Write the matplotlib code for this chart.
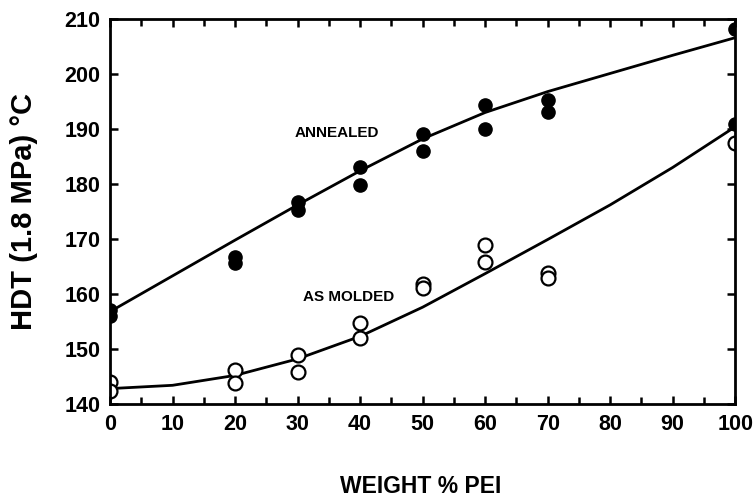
import matplotlib
matplotlib.use("Agg")
from matplotlib import pyplot as plt
from matplotlib.ticker import MultipleLocator

plt.rcParams['font.family'] = ['Liberation Sans', 'DejaVu Sans']
plt.rcParams['font.weight'] = 'bold'

# annealed samples (filled dots)
ann_x = [0, 0, 20, 20, 30, 30, 40, 40, 50, 50, 60, 60, 70, 70, 100, 100]
ann_y = [157.1, 156.0, 166.7, 165.6, 176.7, 175.3, 183.1, 179.8,
         189.1, 186.0, 194.4, 190.0, 195.3, 193.1, 208.2, 191.0]

# as molded samples (open circles)
mol_x = [0, 0, 20, 20, 30, 30, 40, 40, 50, 50, 60, 60, 70, 70, 100]
mol_y = [144.0, 142.3, 146.2, 143.8, 148.9, 145.8, 154.7, 152.0,
         161.8, 161.1, 168.9, 165.8, 163.8, 162.9, 187.5]

# drawn trend curves
curve_x = [0, 10, 20, 30, 40, 50, 60, 70, 80, 90, 100]
ann_curve = [156.8, 163.3, 169.8, 176.2, 182.4, 188.2, 193.0, 196.8, 200.1, 203.4, 206.6]
mol_curve = [142.8, 143.4, 145.2, 148.2, 152.3, 157.6, 163.7, 169.9, 176.2, 183.0, 190.4]

fig = plt.figure(figsize=(7.54, 5.0), dpi=100)
ax = fig.add_axes([0.146, 0.192, 0.829, 0.770])

ax.plot(curve_x, ann_curve, color='black', lw=2)
ax.plot(curve_x, mol_curve, color='black', lw=2)
ax.plot(ann_x, ann_y, 'o', color='black', markersize=9.5, linestyle='none')
ax.plot(mol_x, mol_y, 'o', markerfacecolor='white', markeredgecolor='black',
        markeredgewidth=1.6, markersize=10, linestyle='none')

ax.text(29.6, 189.3, "ANNEALED", fontsize=11, fontweight='heavy', va='center')
ax.text(30.9, 159.5, "AS MOLDED", fontsize=11, fontweight='heavy', va='center')

ax.set_xlim(0, 100)
ax.set_ylim(140, 210)
ax.xaxis.set_major_locator(MultipleLocator(10))
ax.xaxis.set_minor_locator(MultipleLocator(5))
ax.yaxis.set_major_locator(MultipleLocator(10))
ax.tick_params(which='both', direction='in', top=True, right=True, width=1.8)
ax.tick_params(which='major', length=6, labelsize=15.5, pad=7)
ax.tick_params(which='minor', length=5)
for lab in ax.get_xticklabels() + ax.get_yticklabels():
    lab.set_fontweight('bold')
for s in ax.spines.values():
    s.set_linewidth(2)

ax.set_xlabel("WEIGHT % PEI", fontsize=16.5, fontweight='bold')
ax.xaxis.set_label_coords(0.497, -0.185)
ax.set_ylabel("HDT (1.8 MPa) °C", fontsize=21, fontweight='bold')
ax.yaxis.set_label_coords(-0.115, 0.5)

fig.savefig("out.png", dpi=100)
